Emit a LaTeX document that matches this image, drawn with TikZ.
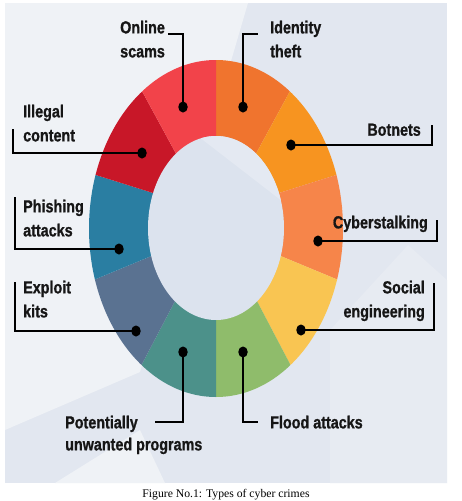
\documentclass[tikz,border=0pt]{standalone}
\usepackage{fontspec}
\newfontfamily\lblfont[FakeStretch=0.82,FakeBold=0.9]{Liberation Sans}
\newfontfamily\capfont{Liberation Serif}
\usetikzlibrary{calc,shapes.geometric}
\definecolor{bgbase}{HTML}{E2E7F0}
\definecolor{bglight}{HTML}{EFF2F6}
\definecolor{bgmid}{HTML}{E7EBF2}
\definecolor{innerc}{HTML}{DCE3EE}
\definecolor{innerlight}{HTML}{E4E9F2}
\definecolor{cOnline}{HTML}{F2434A}
\definecolor{cIdentity}{HTML}{F0742E}
\definecolor{cBotnets}{HTML}{F79420}
\definecolor{cCyber}{HTML}{F6854A}
\definecolor{cSocial}{HTML}{F9C552}
\definecolor{cFlood}{HTML}{8FBC6B}
\definecolor{cPUP}{HTML}{4C918A}
\definecolor{cExploit}{HTML}{5A7291}
\definecolor{cPhish}{HTML}{2A7EA2}
\definecolor{cIllegal}{HTML}{C81728}
\definecolor{txt}{HTML}{161616}
\tikzset{
  lbl/.style={font=\lblfont\bfseries\fontsize{17.5}{24}\selectfont, inner sep=0pt, text=txt},
  dotnode/.style={ellipse, fill=black, minimum width=9.5pt, minimum height=11pt, inner sep=0pt},
  leader/.style={draw=black, line width=1.3pt},
}
\begin{document}
\begin{tikzpicture}[x=1pt,y=-1pt]
\useasboundingbox (0,0) rectangle (462,501);
\fill[white] (0,0) rectangle (462,501);
% background panel
\fill[bgbase] (5,3) rectangle (447,483);
\fill[bglight] (5,3) -- (248,3) -- (140,372) -- (5,430) -- cycle;
\fill[bglight] (55,483) -- (140,430) -- (165,483) -- cycle;
\fill[bgmid] (330,330) -- (408,245) -- (447,280) -- (447,483) -- (330,483) -- cycle;
% ring geometry
\coordinate (C) at (216,228);
\coordinate (I0) at (216,136); \coordinate (O0) at (216,60);
\coordinate (I1) at (258,150); \coordinate (O1) at (289,93);
\coordinate (I2) at (279,193); \coordinate (O2) at (333,176);
\coordinate (I3) at (283,257); \coordinate (O3) at (336,279);
\coordinate (I4) at (258,303); \coordinate (O4) at (290,364);
\coordinate (I5) at (216,320); \coordinate (O5) at (216,397);
\coordinate (I6) at (174,303); \coordinate (O6) at (142,364);
\coordinate (I7) at (149,257); \coordinate (O7) at (96,279);
\coordinate (I8) at (153,193); \coordinate (O8) at (99,176);
\coordinate (I9) at (174,150); \coordinate (O9) at (143,93);
\foreach \i in {0,...,9} { \coordinate (E\i) at ($(I\i)!2!(O\i)$); }
\begin{scope}
  \clip (216,228.5) ellipse [x radius=127, y radius=168.5];
  \fill[cIdentity] (C) -- (I0) -- (E0) -- (E1) -- (I1) -- cycle;
  \fill[cBotnets]  (C) -- (I1) -- (E1) -- (E2) -- (I2) -- cycle;
  \fill[cCyber]    (C) -- (I2) -- (E2) -- (E3) -- (I3) -- cycle;
  \fill[cSocial]   (C) -- (I3) -- (E3) -- (E4) -- (I4) -- cycle;
  \fill[cFlood]    (C) -- (I4) -- (E4) -- (E5) -- (I5) -- cycle;
  \fill[cPUP]      (C) -- (I5) -- (E5) -- (E6) -- (I6) -- cycle;
  \fill[cExploit]  (C) -- (I6) -- (E6) -- (E7) -- (I7) -- cycle;
  \fill[cPhish]    (C) -- (I7) -- (E7) -- (E8) -- (I8) -- cycle;
  \fill[cIllegal]  (C) -- (I8) -- (E8) -- (E9) -- (I9) -- cycle;
  \fill[cOnline]   (C) -- (I9) -- (E9) -- (E0) -- (I0) -- cycle;
\end{scope}
\fill[innerc] (216,228) ellipse [x radius=68, y radius=92];
\begin{scope}
  \clip (216,228) ellipse [x radius=68, y radius=92];
  \fill[innerlight] (190,130) -- (300,130) -- (300,215) -- cycle;
\end{scope}
% labels
\node[lbl, anchor=north west, align=left] (lOnline) at (120,20.5) {Online\\scams};
\node[lbl, anchor=north west, align=left] (lIdentity) at (270,20.5) {Identity\\theft};
\node[lbl, anchor=north west, align=left] (lIllegal) at (23,104.5) {Illegal\\content};
\node[lbl, anchor=north east] (lBotnets) at (421,123.5) {Botnets};
\node[lbl, anchor=north west, align=left] (lPhish) at (23,199.5) {Phishing\\attacks};
\node[lbl, anchor=north east] (lCyber) at (428,215.5) {Cyberstalking};
\node[lbl, anchor=north west, align=left] (lExploit) at (23,280.5) {Exploit\\kits};
\node[lbl, anchor=north east, align=right] (lSocial) at (425,280.5) {Social\\engineering};
\node[lbl, anchor=north west, align=left] (lPUP) at (65,415.5) {Potentially\\[-2pt]unwanted programs};
\node[lbl, anchor=north west] (lFlood) at (270,415.5) {Flood attacks};
% leader ends
\coordinate (eOnline) at (168,34);
\coordinate (eIdentity) at (258,34);
\coordinate (eIllegal) at (13,129);
\coordinate (eBotnets) at (432,125);
\coordinate (ePhish) at (15,197);
\coordinate (eCyber) at (437,220);
\coordinate (eExploit) at (15,282);
\coordinate (eSocial) at (434,283);
\coordinate (ePUP) at (155,422);
\coordinate (eFlood) at (258,422);
% dot positions
\coordinate (pOnline) at (183,107);
\coordinate (pIdentity) at (243,107);
\coordinate (pIllegal) at (142,153);
\coordinate (pBotnets) at (291,145);
\coordinate (pPhish) at (119,249);
\coordinate (pCyber) at (318,241);
\coordinate (pExploit) at (136,331);
\coordinate (pSocial) at (301,330);
\coordinate (pPUP) at (183,352);
\coordinate (pFlood) at (243,352);
% leaders
\draw[leader] (pOnline) |- (eOnline);
\draw[leader] (pIdentity) |- (eIdentity);
\draw[leader] (pIllegal) -| (eIllegal);
\draw[leader] (pBotnets) -| (eBotnets);
\draw[leader] (pPhish) -| (ePhish);
\draw[leader] (pCyber) -| (eCyber);
\draw[leader] (pExploit) -| (eExploit);
\draw[leader] (pSocial) -| (eSocial);
\draw[leader] (pPUP) |- (ePUP);
\draw[leader] (pFlood) |- (eFlood);
% dots
\foreach \n in {Online,Identity,Illegal,Botnets,Phish,Cyber,Exploit,Social,PUP,Flood} {
  \node[dotnode] (d\n) at (p\n) {};
}
% caption
\node[font=\capfont\fontsize{11.7}{14}\selectfont, anchor=base, inner sep=0pt] (caption) at (226,497) {Figure No.1: Types of cyber crimes};
\end{tikzpicture}
\end{document}
